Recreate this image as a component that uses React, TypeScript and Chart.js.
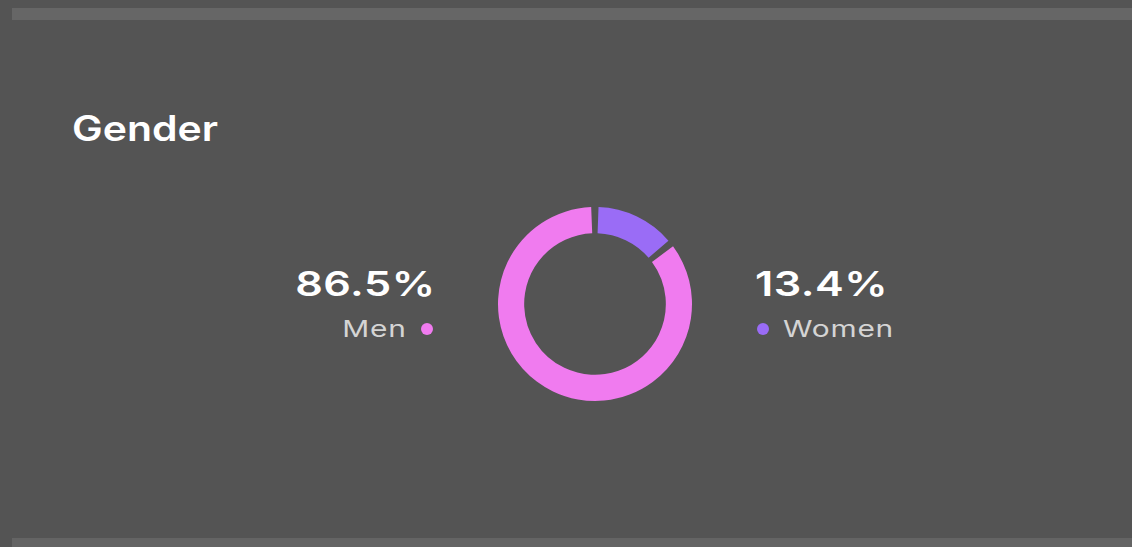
import React, { useEffect, useRef } from "react";
import { Chart, registerables } from "chart.js";

Chart.register(...registerables);

const title = "Gender";
const categories = ["Women", "Men"];
const values = [13.4, 86.5];
const valueLabels = ["13.4%", "86.5%"];
const colors = ["#9a6cf6", "#f07bef"];

const FONT = "Inter, 'Open Sans', sans-serif";

export default function App() {
  const ref = useRef<HTMLCanvasElement | null>(null);

  useEffect(() => {
    document.body.style.margin = "0";
    document.body.style.background = "#545454";
    const chart = new Chart(ref.current!, {
      type: "doughnut",
      data: {
        labels: categories,
        datasets: [
          {
            data: values,
            backgroundColor: colors,
            borderWidth: 0,
            spacing: 4,
          },
        ],
      },
      options: {
        responsive: false,
        animation: false,
        radius: 95,
        cutout: 71,
        rotation: 1.5,
        layout: { padding: 0 },
        plugins: {
          legend: { display: false },
          tooltip: { enabled: false },
        },
      },
    });
    return () => chart.destroy();
  }, []);

  const big = (origin: string): React.CSSProperties => ({
    position: "absolute",
    fontFamily: FONT,
    fontWeight: 600,
    fontSize: 34,
    color: "#ffffff",
    lineHeight: "34px",
    whiteSpace: "nowrap",
    letterSpacing: 0.4,
    transform: "scaleX(1.27)",
    transformOrigin: origin,
  });
  const small = (origin: string): React.CSSProperties => ({
    position: "absolute",
    fontFamily: FONT,
    fontWeight: 400,
    fontSize: 23,
    color: "#d4d4d4",
    lineHeight: "24px",
    whiteSpace: "nowrap",
    letterSpacing: 0.6,
    transform: "scaleX(1.3)",
    transformOrigin: origin,
  });
  const dot = (c: string): React.CSSProperties => ({
    position: "absolute",
    width: 12,
    height: 12,
    borderRadius: "50%",
    background: c,
  });

  return (
    <div
      style={{
        position: "relative",
        width: 1132,
        height: 547,
        background: "#545454",
        overflow: "hidden",
      }}
    >
      <div style={{ position: "absolute", left: 12, top: 8, right: 0, height: 12, background: "#666666" }} />
      <div style={{ position: "absolute", left: 12, top: 538, right: 0, height: 9, background: "#646464" }} />
      <div
        style={{
          position: "absolute",
          left: 72,
          top: 108,
          fontFamily: FONT,
          fontWeight: 600,
          fontSize: 35,
          color: "#ffffff",
          lineHeight: "40px",
          transform: "scaleX(1.17)",
          transformOrigin: "left center",
        }}
      >
        {title}
      </div>
      <canvas
        ref={ref}
        width={200}
        height={200}
        style={{ position: "absolute", left: 495, top: 204, width: 200, height: 200 }}
      />
      <div style={{ ...big("right center"), right: 1132 - 436, top: 267, textAlign: "right" }}>{valueLabels[1]}</div>
      <div style={{ ...small("right center"), right: 1132 - 407, top: 317, textAlign: "right" }}>{categories[1]}</div>
      <div style={{ ...dot(colors[1]), left: 421, top: 323 }} />
      <div style={{ ...big("left center"), left: 755, top: 267 }}>{valueLabels[0]}</div>
      <div style={{ ...dot(colors[0]), left: 757, top: 323 }} />
      <div style={{ ...small("left center"), left: 783, top: 317 }}>{categories[0]}</div>
    </div>
  );
}
